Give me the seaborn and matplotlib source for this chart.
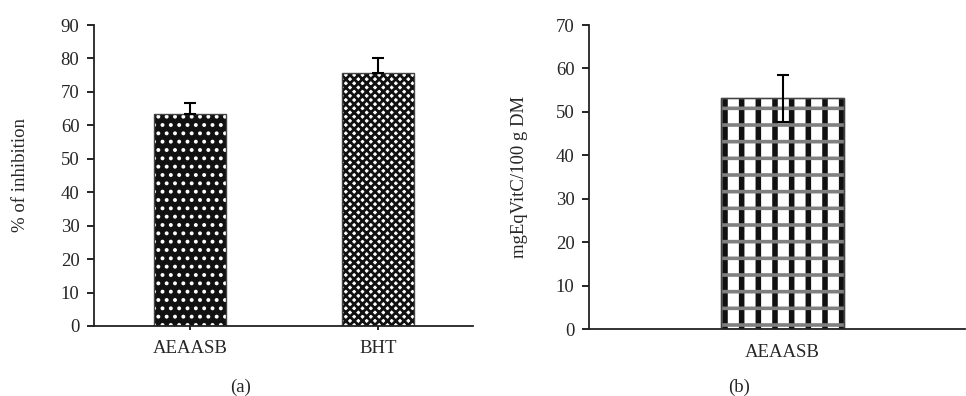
import matplotlib
matplotlib.use("Agg")
import matplotlib.pyplot as plt
import seaborn as sns
import pandas as pd

# ---- data ----
cats_a = ["AEAASB", "BHT"]
vals_a = [63.3, 75.7]
errs_a = [3.5, 4.4]
yticks_a = [0, 10, 20, 30, 40, 50, 60, 70, 80, 90]

cats_b = ["AEAASB"]
vals_b = [53.1]
errs_b = [5.4]
yticks_b = [0, 10, 20, 30, 40, 50, 60, 70]

sns.set_theme(style="ticks")
plt.rcParams["font.family"] = ["Liberation Serif", "DejaVu Serif"]
plt.rcParams["hatch.linewidth"] = 1.5
FS = 13.5

fig = plt.figure(figsize=(9.66, 3.96), dpi=100)
axA = fig.add_axes([94/966, 1-326/396, (473-94)/966, (326-25)/396])
axB = fig.add_axes([589/966, 1-329/396, (966-589)/966 - 0.001, (329-25)/396])

def set_hlw(p, lw):
    if hasattr(p, "set_hatch_linewidth"):
        p.set_hatch_linewidth(lw)

# ---- panel (a) ----
dfa = pd.DataFrame({"cat": cats_a, "val": vals_a})
sns.barplot(data=dfa, x="cat", y="val", ax=axA, width=0.385, errorbar=None,
            color="black", saturation=1, linewidth=0)
pa = axA.patches
pa[0].set_facecolor("#111111"); pa[0].set_edgecolor("white"); pa[0].set_hatch(".."); set_hlw(pa[0], 1.6)
pa[1].set_facecolor("white"); pa[1].set_edgecolor("#111111"); pa[1].set_hatch("xxxx"); set_hlw(pa[1], 2.0)
sns.barplot(data=dfa, x="cat", y="val", ax=axA, width=0.385, errorbar=None,
            fill=False, color="#444444", linewidth=1.0)
axA.errorbar(range(len(cats_a)), vals_a, yerr=[[0] * len(errs_a), errs_a], fmt="none",
             ecolor="black", elinewidth=1.5, capsize=4, capthick=1.5)
axA.set_xlim(-0.51, 1.505)
axA.set_ylim(0, 90)
axA.set_yticks(yticks_a)
axA.set_xlabel("")
axA.set_ylabel("% of inhibition", fontsize=FS)
axA.yaxis.set_label_coords(-0.172, 0.5)
axA.tick_params(axis="both", labelsize=FS, length=5, width=1.2, color="black")
axA.tick_params(axis="y", pad=5.5)
axA.tick_params(axis="x", length=3, pad=7)

# ---- panel (b) ----
dfb = pd.DataFrame({"cat": cats_b, "val": vals_b})
sns.barplot(data=dfb, x="cat", y="val", ax=axB, width=0.326, errorbar=None,
            color="white", saturation=1, linewidth=0)
pb = axB.patches[0]
pb.set_facecolor("white"); pb.set_edgecolor("#111111"); pb.set_hatch("|"); set_hlw(pb, 4.0)
sns.barplot(data=dfb, x="cat", y="val", ax=axB, width=0.326, errorbar=None,
            fill=False, color="#444444", linewidth=1.0)
pb2 = axB.patches[1]
pb2.set_hatch("-"); set_hlw(pb2, 2.6); pb2.set_edgecolor("#808080")
sns.barplot(data=dfb, x="cat", y="val", ax=axB, width=0.326, errorbar=None,
            fill=False, color="#444444", linewidth=1.0)
axB.errorbar(range(len(cats_b)), vals_b, yerr=errs_b, fmt="none", ecolor="black",
             elinewidth=1.5, capsize=4, capthick=1.5)
axB.set_xlim(-0.5146, 0.4854)
axB.set_ylim(0, 70)
axB.set_yticks(yticks_b)
axB.set_xlabel("")
axB.set_ylabel("mgEqVitC/100 g DM", fontsize=FS)
axB.yaxis.set_label_coords(-0.162, 0.5)
axB.tick_params(axis="both", labelsize=FS, length=5, width=1.2, color="black")
axB.tick_params(axis="y", pad=5.5)
axB.tick_params(axis="x", length=0, pad=11)

for ax in (axA, axB):
    sns.despine(ax=ax)
    for s in ("left", "bottom"):
        ax.spines[s].set_linewidth(1.3)
        ax.spines[s].set_color("#222222")

fig.text(241/966, 1-387/396, "(a)", ha="center", va="center", fontsize=FS)
fig.text(739/966, 1-387/396, "(b)", ha="center", va="center", fontsize=FS)

fig.savefig("out.png", dpi=100)
